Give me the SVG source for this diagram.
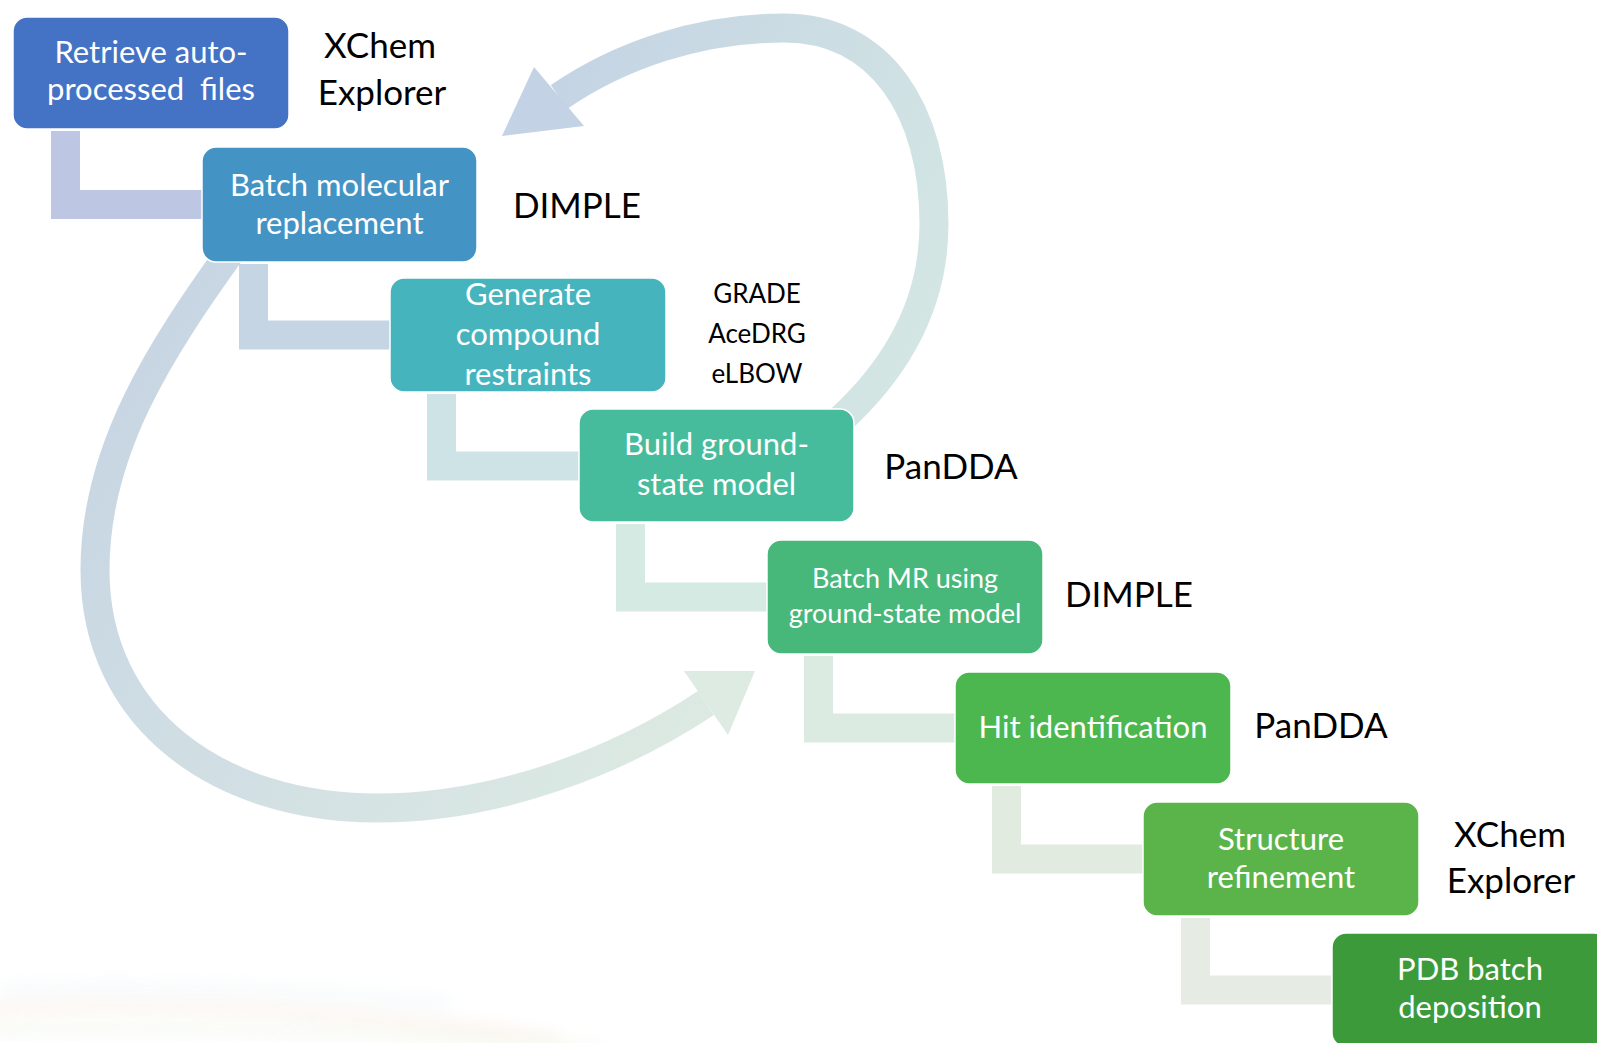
<svg xmlns="http://www.w3.org/2000/svg" width="1597" height="1043" viewBox="0 0 1597 1043">
<style>
.box{stroke:#ffffff;stroke-width:1.5}
.bt{font-family:Lato,"Open Sans",sans-serif;fill:#ffffff;text-anchor:middle;font-size:31px}
.bs{font-size:27px}
.lb{font-family:Lato,"Open Sans",sans-serif;fill:#000000;text-anchor:middle;font-size:35px}
.ls{font-size:26px}
.elb{fill:none;stroke-width:29;stroke-linejoin:miter;stroke-linecap:butt}
.arc{fill:none;stroke-width:29;stroke-linecap:butt}
</style>
<defs>
<linearGradient id="gU" gradientUnits="userSpaceOnUse" x1="500" y1="100" x2="940" y2="300">
<stop offset="0" stop-color="#C3D2E4"/>
<stop offset="1" stop-color="#D3E6E3"/>
</linearGradient>
<linearGradient id="gL" gradientUnits="userSpaceOnUse" x1="100" y1="300" x2="760" y2="720">
<stop offset="0" stop-color="#C6D4E3"/>
<stop offset="0.5" stop-color="#D2E0E4"/>
<stop offset="1" stop-color="#DEEBE2"/>
</linearGradient>
<filter id="blur" x="-20%" y="-50%" width="140%" height="200%">
<feGaussianBlur stdDeviation="8"/>
</filter>
</defs>
<rect width="1597" height="1043" fill="#ffffff"/>
<g id="background-swoosh" filter="url(#blur)" opacity="0.35">
<path d="M -20,1010 C 150,1000 350,1010 560,1040" fill="none" stroke="#F3DCCB" stroke-width="10"/>
<path d="M -20,1030 C 200,1025 400,1030 600,1050" fill="none" stroke="#E6F0D8" stroke-width="10"/>
<path d="M 0,990 C 150,985 300,990 450,1005" fill="none" stroke="#E6EFF3" stroke-width="12"/>
</g>
<g id="connectors">
<path class="arc" stroke="url(#gU)" d="M 559,97 C 620,55 700,28 784,28 C 880,28 934,110 934,224 C 934,310 890,375 838,422"/>
<polygon points="502,136 534,67 584,126" fill="#C3D2E4"/>
<path class="arc" stroke="url(#gL)" d="M 232,250 C 160,350 95,450 95,570 C 95,720 220,808 377,808 C 500,808 620,760 706,703"/>
<polygon points="684,671 755,671 728,735" fill="#DEEBE2"/>
<path class="elb" stroke="#BDC6E2" d="M 65.5,131 V 204.5 H 204"/>
<path class="elb" stroke="#C6D5E3" d="M 253.5,264 V 335 H 392"/>
<path class="elb" stroke="#CEE3E6" d="M 441.5,394 V 466 H 581"/>
<path class="elb" stroke="#D6EAE4" d="M 630.5,524 V 597 H 769"/>
<path class="elb" stroke="#DCEBE2" d="M 818.5,656 V 728 H 957"/>
<path class="elb" stroke="#E1EBE0" d="M 1006.5,786 V 859 H 1145"/>
<path class="elb" stroke="#E6ECE4" d="M 1195.5,918 V 990 H 1334"/>
</g>
<g id="node-retrieve">
<rect class="box" x="13" y="17" width="276" height="112" rx="14" fill="#4472C4"/>
<text class="bt" x="151" y="63">Retrieve auto-</text>
<text class="bt" x="151" y="100" word-spacing="8">processed files</text>
</g>
<g id="label-xchem-1">
<text class="lb" x="380" y="58">XChem</text>
<text class="lb" x="382" y="105">Explorer</text>
</g>
<g id="node-batch-mr">
<rect class="box" x="202" y="147" width="275" height="115" rx="14" fill="#4394C5"/>
<text class="bt" x="339.5" y="196">Batch molecular</text>
<text class="bt" x="339.5" y="234">replacement</text>
</g>
<g id="label-dimple-1">
<text class="lb" x="577" y="218">DIMPLE</text>
</g>
<g id="node-restraints">
<rect class="box" x="390" y="278" width="276" height="114" rx="14" fill="#45B4BD"/>
<text class="bt" x="528" y="305">Generate</text>
<text class="bt" x="528" y="345">compound</text>
<text class="bt" x="528" y="385">restraints</text>
</g>
<g id="label-restraint-tools">
<text class="lb ls" x="757" y="303">GRADE</text>
<text class="lb ls" x="757" y="343">AceDRG</text>
<text class="lb ls" x="757" y="383">eLBOW</text>
</g>
<g id="node-ground-state">
<rect class="box" x="579" y="409" width="275" height="113" rx="14" fill="#46BC9C"/>
<text class="bt" x="716.5" y="455">Build ground-</text>
<text class="bt" x="716.5" y="495">state model</text>
</g>
<g id="label-pandda-1">
<text class="lb" x="951" y="479">PanDDA</text>
</g>
<g id="node-batch-mr-gs">
<rect class="box" x="767" y="540" width="276" height="114" rx="14" fill="#48B77A"/>
<text class="bt bs" x="905" y="588">Batch MR using</text>
<text class="bt bs" x="905" y="623">ground-state model</text>
</g>
<g id="label-dimple-2">
<text class="lb" x="1129" y="607">DIMPLE</text>
</g>
<g id="node-hit">
<rect class="box" x="955" y="672" width="276" height="112" rx="14" fill="#4CB74E"/>
<text class="bt" x="1093" y="738">Hit identification</text>
</g>
<g id="label-pandda-2">
<text class="lb" x="1321" y="738">PanDDA</text>
</g>
<g id="node-refinement">
<rect class="box" x="1143" y="802" width="276" height="114" rx="14" fill="#5BB44A"/>
<text class="bt" x="1281" y="850">Structure</text>
<text class="bt" x="1281" y="888">refinement</text>
</g>
<g id="label-xchem-2">
<text class="lb" x="1510" y="847">XChem</text>
<text class="lb" x="1511" y="893">Explorer</text>
</g>
<g id="node-deposition">
<rect class="box" x="1332" y="933" width="276" height="114" rx="14" fill="#3C9A3A"/>
<text class="bt" x="1470" y="980">PDB batch</text>
<text class="bt" x="1470" y="1018">deposition</text>
</g>
</svg>
